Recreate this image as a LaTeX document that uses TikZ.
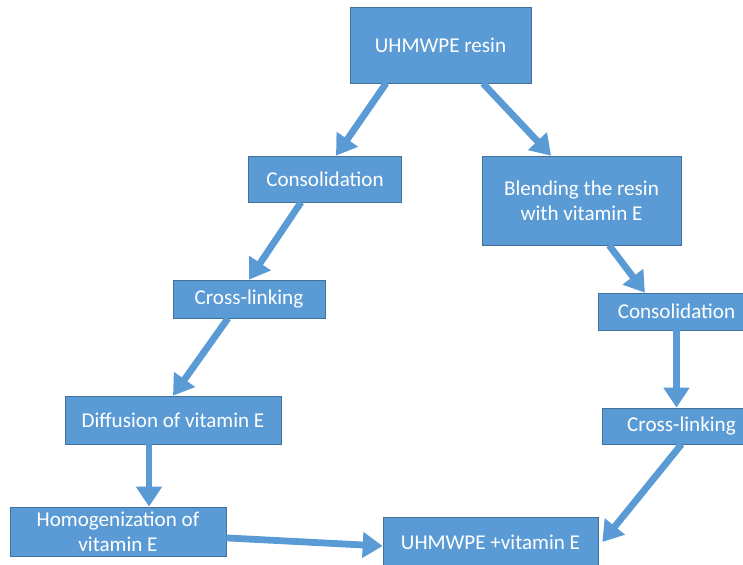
\documentclass[tikz,border=0pt]{standalone}
\usepackage{fontspec}
\setmainfont{Carlito}
\usetikzlibrary{arrows.meta, positioning, calc}
\definecolor{boxblue}{HTML}{5B9BD5}
\definecolor{boxline}{HTML}{41719C}

\begin{document}
\begin{tikzpicture}[x=0.025cm, y=-0.025cm, >={Triangle[length=0.5cm, width=0.62cm]}, font=\fontsize{15}{18}\selectfont]
  \tikzstyle{stepbox}=[draw=boxline, fill=boxblue, text=white, align=center, inner sep=0pt]
  \tikzstyle{flow}=[->, draw=boxblue, line width=0.17cm]

  \useasboundingbox (0,0) rectangle (743,565);

  \node[stepbox, minimum width=4.525cm, minimum height=1.9cm] (resin) at (440.5,45) {UHMWPE resin};
  \node[stepbox, minimum width=3.825cm, minimum height=1.15cm] (cons1) at (325,179) {Consolidation};
  \node[stepbox, minimum width=4.975cm, minimum height=2.225cm] (blend) at (581.5,200.5) {Blending the resin\\with vitamin E};
  \node[stepbox, minimum width=3.8cm, minimum height=0.95cm] (cross1) at (249,299) {Cross-linking};
  \node[stepbox, minimum width=3.925cm, minimum height=0.925cm] (cons2) at (676.5,311.5) {Consolidation};
  \node[stepbox, minimum width=5.4cm, minimum height=1.2cm] (diff) at (173,420) {Diffusion of vitamin E};
  \node[stepbox, minimum width=3.975cm, minimum height=0.9cm] (cross2) at (681.5,426) {Cross-linking};
  \node[stepbox, minimum width=5.4cm, minimum height=1.225cm] (homog) at (118,531.5) {Homogenization of\\vitamin E};
  \node[stepbox, minimum width=5.375cm, minimum height=1.25cm] (final) at (490.5,542) {UHMWPE +vitamin E};

  % left branch
  \draw[flow] ([xshift=-1.36cm]resin.south) -- ([xshift=0.275cm]cons1.north);
  \draw[flow] ([xshift=-0.6cm]cons1.south) -- (cross1.north);
  \draw[flow] ([xshift=-0.525cm]cross1.south) -- (diff.north);
  \draw[flow] ([xshift=-0.6cm]diff.south) -- ([xshift=-0.6cm]diff.south |- homog.north);
  \draw[flow] ([yshift=-0.16cm]homog.east) -- ([yshift=-0.1cm]final.west);

  % right branch
  \draw[flow] ([xshift=1.06cm]resin.south) -- ([xshift=-0.76cm]blend.north);
  \draw[flow] ([xshift=0.69cm]blend.south) -- ([xshift=-0.79cm]cons2.north);
  \draw[flow] (cons2.south) -- (cons2.south |- cross2.north);
  \draw[flow] (cross2.south) -- ([xshift=0.1cm]final.east);
\end{tikzpicture}
\end{document}
